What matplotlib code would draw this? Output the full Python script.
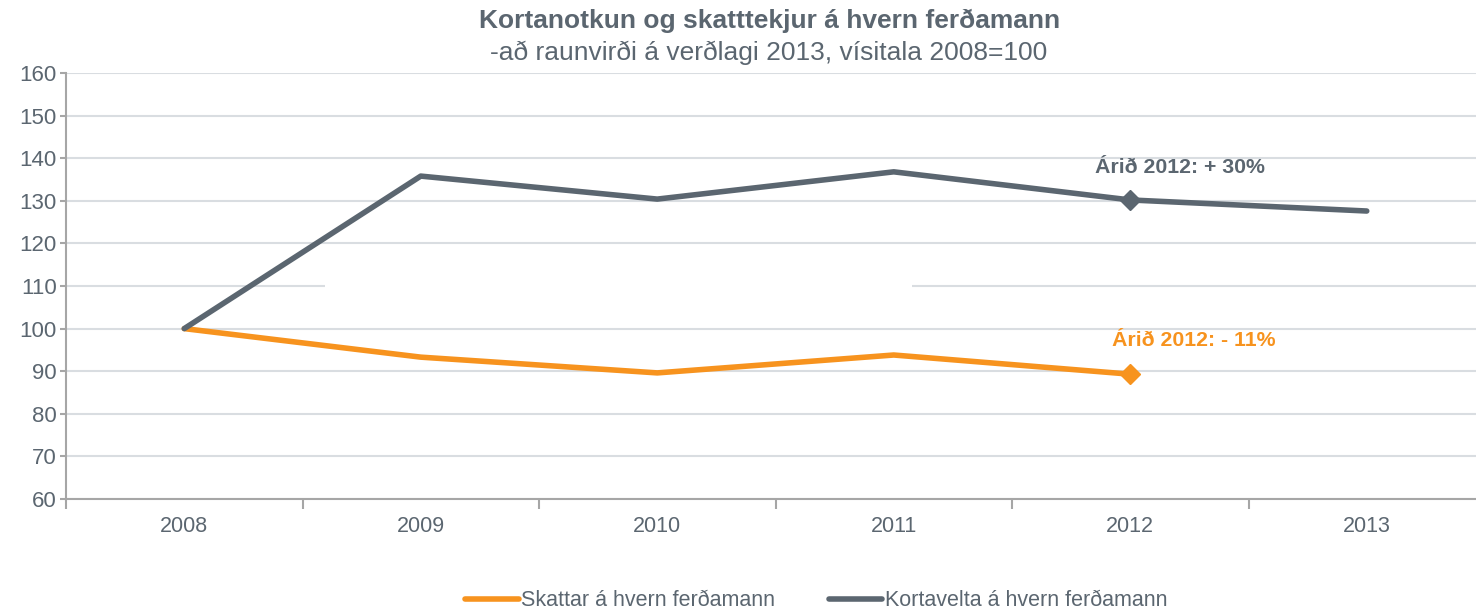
import numpy as np
import matplotlib.pyplot as plt
from matplotlib.patches import Rectangle

years = ["2008", "2009", "2010", "2011", "2012", "2013"]
kortavelta = [100, 135.8, 130.4, 136.8, 130.2, 127.6]
skattar = [100, 93.3, 89.6, 93.8, 89.3]

ORANGE = "#F7931E"
DARK = "#5B6670"
GRID = "#D9DDE1"
AXIS = "#A6A6A6"

plt.rcParams['font.family'] = ['Liberation Sans', 'DejaVu Sans']

fig = plt.figure(figsize=(14.76, 6.14), dpi=100, facecolor='w')
ax = fig.add_axes([66 / 1476, 115 / 614, 1419 / 1476, 426 / 614])

x = np.arange(len(years))
ax.plot(x[:len(skattar)], skattar, color=ORANGE, lw=4, solid_capstyle='round',
        solid_joinstyle='round', zorder=3)
ax.plot(x, kortavelta, color=DARK, lw=4, solid_capstyle='round',
        solid_joinstyle='round', zorder=3)
ax.plot([4], [skattar[4]], marker='D', color=ORANGE, ms=10, zorder=4)
ax.plot([4], [kortavelta[4]], marker='D', color=DARK, ms=10, zorder=4)

ax.text(4.21, 137.8, "Árið 2012: + 30%", color=DARK, fontsize=15.3, fontweight='bold',
        ha='center', va='center')
ax.text(4.27, 97.3, "Árið 2012: - 11%", color=ORANGE, fontsize=15.3, fontweight='bold',
        ha='center', va='center')

ax.set_xlim(-0.5, 5.5)
ax.set_ylim(60, 160)
ax.set_yticks(np.arange(60, 161, 10))
ax.yaxis.grid(True, color=GRID, lw=1.5, zorder=0)
ax.set_axisbelow(True)
# gap in the 110 gridline as in the source
ax.add_patch(Rectangle((0.596, 109.4), 2.482, 1.2, color='w', zorder=1, lw=0))

ax.set_xticks(x)
ax.set_xticklabels(years)
ax.set_xticks(np.arange(-0.5, 6, 1), minor=True)
ax.tick_params(axis='x', which='major', length=0, pad=12, labelsize=15.5, labelcolor=DARK)
ax.tick_params(axis='x', which='minor', length=7, width=1.5, color=AXIS, direction='out')
ax.tick_params(axis='y', length=4.5, width=1.5, color=AXIS, pad=2, labelsize=16, labelcolor=DARK)

for s in ['top', 'right']:
    ax.spines[s].set_visible(False)
for s in ['left', 'bottom']:
    ax.spines[s].set_color(AXIS)
    ax.spines[s].set_linewidth(1.5)

fig.text(770 / 1476, 1 - 21 / 614, "Kortanotkun og skatttekjur á hvern ferðamann",
         ha='center', va='center', fontsize=19, fontweight='bold', color=DARK)
fig.text(769 / 1476, 1 - 53 / 614, "-að raunvirði á verðlagi 2013, vísitala 2008=100",
         ha='center', va='center', fontsize=19, color=DARK)

h1, = ax.plot([], [], color=ORANGE, lw=4, solid_capstyle='round')
h2, = ax.plot([], [], color=DARK, lw=4, solid_capstyle='round')
leg = fig.legend([h1, h2], ["Skattar á hvern ferðamann", "Kortavelta á hvern ferðamann"],
                 loc='center', bbox_to_anchor=(816 / 1476, 1 - 601 / 614), ncol=2,
                 frameon=False, handlelength=2.5, handletextpad=0.1, columnspacing=2.5,
                 fontsize=15.5)
for t in leg.get_texts():
    t.set_color(DARK)

fig.savefig("out.png", dpi=100)
